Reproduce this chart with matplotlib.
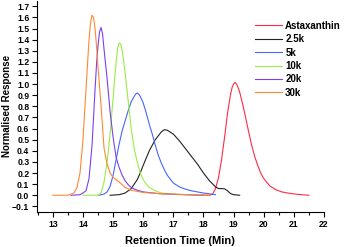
import matplotlib.pyplot as plt
from matplotlib.ticker import MultipleLocator

# retention time (min) / normalised response
asta_t = [18.0, 18.2, 18.3, 18.4, 18.5, 18.6, 18.7, 18.8, 18.9, 18.95, 19.0, 19.05, 19.1, 19.15,
          19.2, 19.3, 19.4, 19.5, 19.6, 19.7, 19.8, 19.9, 20.0, 20.2, 20.4, 20.6, 20.8, 21.0,
          21.2, 21.5]
asta_r = [0.0, 0.0, 0.01, 0.06, 0.16, 0.32, 0.52, 0.74, 0.91, 0.97, 1.0, 1.015, 1.0, 0.97,
          0.93, 0.82, 0.7, 0.57, 0.45, 0.35, 0.27, 0.2, 0.15, 0.085, 0.05, 0.03, 0.02, 0.012,
          0.006, 0.0]

k25_t = [14.9, 15.2, 15.4, 15.6, 15.8, 15.9, 16.0, 16.2, 16.4, 16.6, 16.7, 16.8, 17.0, 17.2,
         17.4, 17.6, 17.8, 18.0, 18.2, 18.4, 18.5, 18.6, 18.7, 18.8, 18.9, 19.0, 19.2]
k25_r = [0.0, 0.005, 0.02, 0.06, 0.14, 0.2, 0.27, 0.4, 0.5, 0.57, 0.59, 0.585, 0.55, 0.49,
         0.42, 0.35, 0.28, 0.2, 0.13, 0.075, 0.06, 0.06, 0.058, 0.04, 0.015, 0.005, 0.0]

k5_t = [14.5, 14.7, 14.8, 14.9, 15.0, 15.1, 15.2, 15.3, 15.4, 15.5, 15.6, 15.7, 15.75, 15.8,
        15.85, 15.9, 16.0, 16.1, 16.2, 16.3, 16.4, 16.5, 16.6, 16.7, 16.8, 17.0, 17.2, 17.4,
        17.6, 18.0, 18.4]
k5_r = [0.0, 0.01, 0.03, 0.08, 0.18, 0.32, 0.46, 0.58, 0.67, 0.76, 0.84, 0.89, 0.91, 0.92,
        0.91, 0.89, 0.83, 0.74, 0.64, 0.55, 0.45, 0.36, 0.29, 0.23, 0.18, 0.11, 0.075, 0.055,
        0.04, 0.02, 0.005]

k10_t = [14.0, 14.5, 14.6, 14.7, 14.8, 14.9, 15.0, 15.05, 15.1, 15.15, 15.2, 15.25, 15.3,
         15.35, 15.4, 15.5, 15.6, 15.7, 15.8, 15.9, 16.0, 16.1, 16.2, 16.4, 16.6, 17.0, 17.5,
         18.0]
k10_r = [0.0, 0.0, 0.02, 0.12, 0.3, 0.55, 0.88, 1.05, 1.2, 1.32, 1.37, 1.36, 1.3,
         1.21, 1.1, 0.85, 0.6, 0.42, 0.3, 0.2, 0.14, 0.1, 0.07, 0.04, 0.02, 0.01, 0.005, 0.0]

k20_t = [13.6, 13.9, 14.0, 14.1, 14.2, 14.3, 14.4, 14.45, 14.5, 14.55, 14.6, 14.65, 14.7,
         14.8, 14.9, 15.0, 15.1, 15.2, 15.3, 15.4, 15.5, 15.6, 15.8, 16.0, 16.5, 17.0, 18.0]
k20_r = [0.0, 0.005, 0.02, 0.04, 0.15, 0.45, 0.95, 1.18, 1.35, 1.47, 1.51, 1.45, 1.31,
         1.05, 0.75, 0.52, 0.34, 0.25, 0.18, 0.13, 0.095, 0.07, 0.045, 0.03, 0.015, 0.008, 0.0]

k30_t = [13.0, 13.5, 13.7, 13.8, 13.9, 14.0, 14.1, 14.15, 14.2, 14.25, 14.3, 14.35, 14.4,
         14.45, 14.5, 14.6, 14.7, 14.8, 14.9, 15.0, 15.2, 15.4, 15.6, 15.8, 16.0, 16.5, 17.0,
         17.5, 18.2]
k30_r = [0.0, 0.0, 0.02, 0.07, 0.2, 0.5, 0.95, 1.18, 1.4, 1.55, 1.62, 1.6, 1.5,
         1.34, 1.15, 0.8, 0.42, 0.28, 0.2, 0.16, 0.12, 0.07, 0.045, 0.035, 0.025, 0.015, 0.01,
         0.005, 0.0]

series = [
    ("Astaxanthin", asta_t, asta_r, "#ff2a45"),
    ("2.5k", k25_t, k25_r, "#222222"),
    ("5k", k5_t, k5_r, "#4466ff"),
    ("10k", k10_t, k10_r, "#99ee44"),
    ("20k", k20_t, k20_r, "#7b3ff2"),
    ("30k", k30_t, k30_r, "#ff8833"),
]

plt.rcParams['font.family'] = ['Liberation Sans', 'DejaVu Sans']

fig = plt.figure(figsize=(3.45, 2.47), dpi=100)
ax = fig.add_axes([0.107, 0.142, 0.832, 0.855])

for name, t, r, c in series:
    ax.plot(t, r, color=c, lw=0.8, label=name)

ax.set_xlim(12.47, 22)
ax.set_ylim(-0.15, 1.75)
ax.xaxis.set_major_locator(MultipleLocator(1))
ax.xaxis.set_minor_locator(MultipleLocator(0.5))
ax.set_yticks([i / 10 for i in range(-1, 18)])

for s in ['top', 'right']:
    ax.spines[s].set_visible(False)
for s in ['left', 'bottom']:
    ax.spines[s].set_linewidth(0.8)

ax.tick_params(which='major', direction='out', length=3.5, width=0.8, labelsize=6.2, pad=2)
ax.tick_params(which='minor', direction='out', length=2, width=0.8)
ax.tick_params(axis='y', which='minor', left=False)
for lbl in ax.get_xticklabels() + ax.get_yticklabels():
    lbl.set_fontweight('bold')

ax.set_xlabel("Retention Time (Min)", fontsize=8, fontweight='bold', labelpad=5)
ax.set_ylabel("Normalised Response", fontsize=7, fontweight='bold')
ax.yaxis.set_label_coords(-0.088, 0.5)

leg = ax.legend(loc='upper left', bbox_to_anchor=(0.76, 0.905), frameon=False,
                fontsize=7, handlelength=2.8, handletextpad=0.3, labelspacing=0.35,
                borderpad=0, borderaxespad=0)
for txt in leg.get_texts():
    txt.set_fontweight('bold')

fig.savefig("out.png", dpi=100)
